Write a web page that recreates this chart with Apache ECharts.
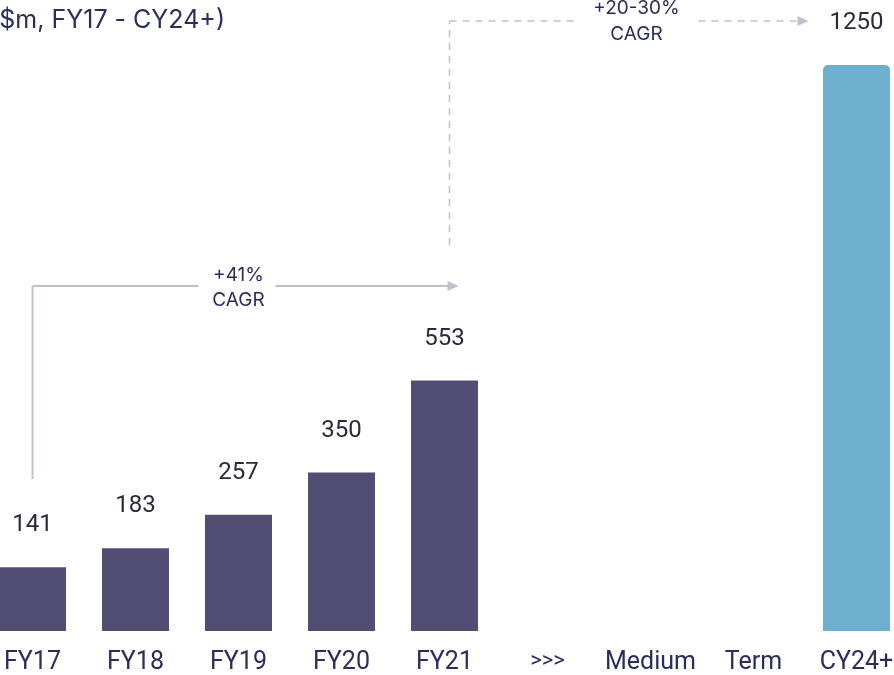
<!DOCTYPE html>
<html>
<head>
    <meta charset="utf-8">
    <title>Revenue chart</title>
    <script type="text/javascript" src="https://cdn.jsdelivr.net/npm/echarts@6/dist/echarts.min.js"></script>
    <style>
        html, body { margin: 0; padding: 0; background: #fff; overflow: hidden; }
        #main { position: absolute; left: -19px; top: 0; }
    </style>
</head>
<body>
<!-- chart is a bit wider than the window: the reference is cropped on both sides -->
<div id="main" style="width:928px;height:675px;"></div>

<script type="text/javascript">
    // data
    var categories = ['FY17', 'FY18', 'FY19', 'FY20', 'FY21', '>>>', 'Medium', 'Term', 'CY24+'];
    var historicValues = [141, 183, 257, 350, 553, '-', '-', '-', '-'];
    var targetValues = ['-', '-', '-', '-', '-', '-', '-', '-', 1250];
    var titleText = '(A$m, FY17 - CY24+)';
    var cagrHist = ['+41%', 'CAGR'];
    var cagrTarget = ['+20-30%', 'CAGR'];

    var textColor = '#2d2d5c';
    var lineColor = '#bcc2cf';
    var fontFamily = 'Roboto, "Noto Sans", sans-serif';
    var noteFont = 'Inter, Roboto, sans-serif';

    var myChart = echarts.init(document.getElementById('main'));

    var option = {
        animation: false,
        grid: { left: 0, right: 1, top: 65, bottom: 43 },
        xAxis: {
            type: 'category',
            data: categories,
            axisLine: { show: false },
            axisTick: { show: false },
            axisLabel: {
                interval: 0,
                margin: 19,
                fontSize: 25,
                color: textColor,
                fontFamily: fontFamily,
                formatter: function (v) {
                    return v === '>>>' ? '{s|' + v + '}' : v;
                },
                rich: { s: { fontSize: 22, color: textColor, fontFamily: fontFamily } }
            }
        },
        yAxis: {
            type: 'value',
            min: 0,
            max: 1250,
            show: false,
            splitLine: { show: false }
        },
        series: [{
            type: 'bar',
            barWidth: 67,
            barGap: '-100%',
            data: historicValues,
            itemStyle: { color: '#524d72' },
            label: {
                show: true, position: 'top', distance: 30,
                fontSize: 24, color: '#2a2a3c', fontFamily: fontFamily
            }
        }, {
            type: 'bar',
            barWidth: 67,
            barGap: '-100%',
            data: targetValues,
            itemStyle: { color: '#6eafcd', borderRadius: [5, 5, 0, 0] },
            label: {
                show: true, position: 'top', distance: 30,
                fontSize: 24, color: '#2a2a3c', fontFamily: fontFamily
            }
        }]
    };
    myChart.setOption(option);

    // annotations placed from axis positions
    var xOf = function (c) { return myChart.convertToPixel({ xAxisIndex: 0 }, c); };
    var x17 = xOf('FY17'), x21 = xOf('FY21'), xCY = xOf('CY24+');

    function arrowHead(tipX, y) {
        return {
            type: 'polygon',
            shape: { points: [[tipX, y], [tipX - 11, y - 5], [tipX - 11, y + 5]] },
            style: { fill: lineColor }
        };
    }
    function label(x, y, s) {
        return {
            type: 'text', x: x, y: y,
            style: { text: s, fontSize: 19, fill: textColor, fontFamily: noteFont,
                     align: 'center', verticalAlign: 'middle' }
        };
    }

    var solid = { stroke: lineColor, lineWidth: 2 };
    var dashed = { stroke: lineColor, lineWidth: 1.5, lineDash: [7, 6] };
    var midA = (x17 + x21) / 2;
    var midB = (x21 + xCY) / 2 - 14;

    myChart.setOption({
        graphic: [
            { type: 'text', x: 244, y: 20,
              style: { text: titleText, fontSize: 25, fill: textColor, fontFamily: noteFont,
                       align: 'right', verticalAlign: 'middle' } },
            // +41% CAGR
            { type: 'line', shape: { x1: x17, y1: 479, x2: x17, y2: 286 }, style: solid },
            { type: 'line', shape: { x1: x17, y1: 286, x2: midA - 40, y2: 286 }, style: solid },
            { type: 'line', shape: { x1: midA + 37, y1: 286, x2: x21 + 5, y2: 286 }, style: solid },
            arrowHead(x21 + 14, 286),
            label(midA, 275, cagrHist[0]),
            label(midA, 300, cagrHist[1]),
            // +20-30% CAGR
            { type: 'line', shape: { x1: x21 + 5, y1: 245, x2: x21 + 5, y2: 21 }, style: dashed },
            { type: 'line', shape: { x1: x21 + 5, y1: 21, x2: midB - 58, y2: 21 }, style: dashed },
            { type: 'line', shape: { x1: midB + 62, y1: 21, x2: xCY - 58, y2: 21 }, style: dashed },
            arrowHead(xCY - 48, 21),
            label(midB, 8, cagrTarget[0]),
            label(midB, 34, cagrTarget[1])
        ]
    });
</script>
</body>
</html>
